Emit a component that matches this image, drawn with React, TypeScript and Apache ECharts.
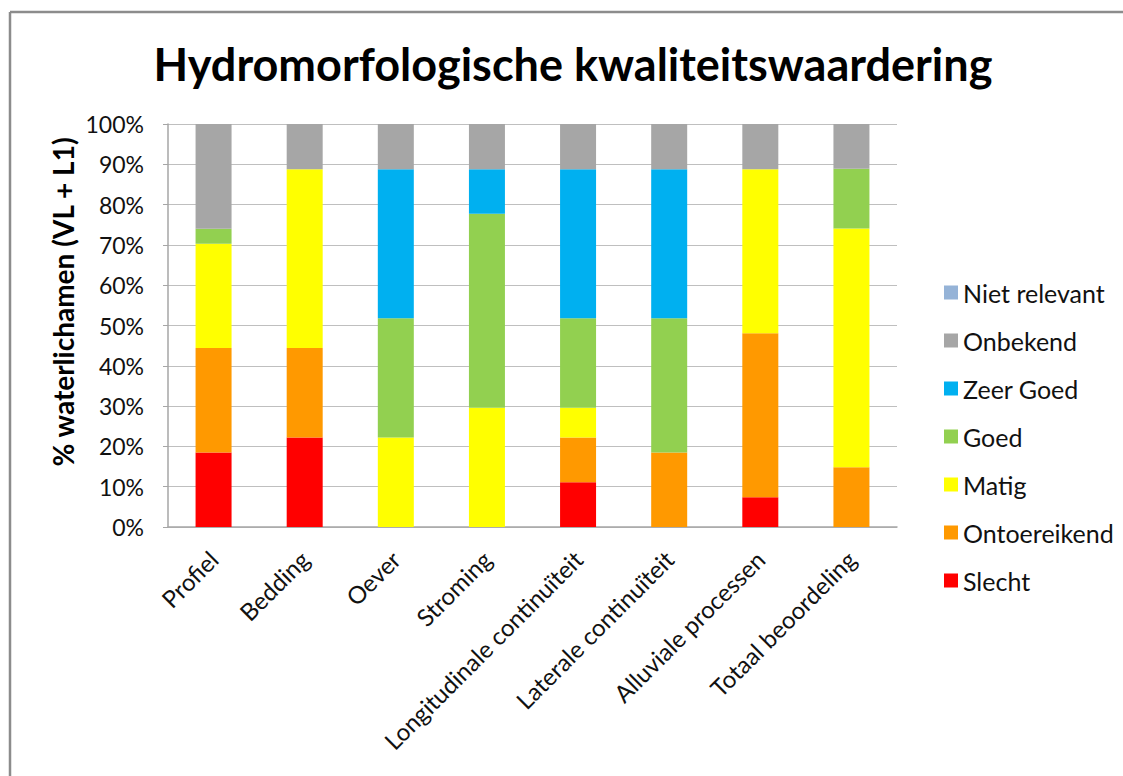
import React, { useEffect, useRef } from "react";
import * as echarts from "echarts";

const categories = [
  "Profiel",
  "Bedding",
  "Oever",
  "Stroming",
  "Longitudinale continuïteit",
  "Laterale continuïteit",
  "Alluviale processen",
  "Totaal beoordeling",
];

// percentages of water bodies (VL + L1)
const slecht = [18.5, 22.2, 0, 0, 11.1, 0, 7.4, 0];
const ontoereikend = [25.9, 22.2, 0, 0, 11.1, 18.5, 40.7, 14.8];
const matig = [25.9, 44.4, 22.2, 29.6, 7.4, 0, 40.7, 59.3];
const goed = [3.7, 0, 29.6, 48.1, 22.2, 33.3, 0, 14.8];
const zeerGoed = [0, 0, 37.0, 11.1, 37.0, 37.0, 0, 0];
const onbekend = [26.0, 11.2, 11.2, 11.2, 11.2, 11.2, 11.2, 11.1];
const nietRelevant = [0, 0, 0, 0, 0, 0, 0, 0];

const yTicks = [0, 10, 20, 30, 40, 50, 60, 70, 80, 90, 100];

const seriesDefs = [
  { name: "Slecht", data: slecht, color: "#FF0000" },
  { name: "Ontoereikend", data: ontoereikend, color: "#FF9900" },
  { name: "Matig", data: matig, color: "#FFFF00" },
  { name: "Goed", data: goed, color: "#92D050" },
  { name: "Zeer Goed", data: zeerGoed, color: "#00B0F0" },
  { name: "Onbekend", data: onbekend, color: "#A6A6A6" },
  { name: "Niet relevant", data: nietRelevant, color: "#95B3D7" },
];

const FONT = "Lato";

export default function App() {
  const ref = useRef<HTMLDivElement>(null);
  useEffect(() => {
    if (!ref.current) return;
    const chart = echarts.init(ref.current, null, { renderer: "svg" });
    chart.setOption({
      animation: false,
      backgroundColor: "#ffffff",
      textStyle: { fontFamily: FONT },
      grid: { left: 168, right: 226, top: 124, bottom: 249 },
      legend: {
        orient: "vertical",
        left: 939,
        top: 275,
        itemWidth: 14,
        itemHeight: 14,
        itemGap: 23,
        icon: "rect",
        data: seriesDefs.map((s) => s.name).reverse(),
        textStyle: { fontSize: 25, color: "#111", fontFamily: FONT, lineHeight: 20 },
      },
      xAxis: {
        type: "category",
        data: categories,
        axisLine: { lineStyle: { color: "#A6A6A6", width: 1.5 } },
        axisTick: { show: false },
        axisLabel: {
          rotate: 45,
          interval: 0,
          fontSize: 24,
          color: "#111",
          fontFamily: FONT,
          margin: 28,
        },
      },
      yAxis: {
        type: "value",
        min: 0,
        max: 100,
        interval: 10,
        axisLine: { show: true, lineStyle: { color: "#A6A6A6", width: 1.5 } },
        axisTick: { show: true, length: 5, lineStyle: { color: "#A6A6A6" } },
        splitLine: { lineStyle: { color: "#BFBFBF", width: 1.2 } },
        axisLabel: {
          fontSize: 23,
          color: "#111",
          fontFamily: FONT,
          margin: 24,
          formatter: (v: number) => (yTicks.includes(v) ? v + "%" : ""),
        },
      },
      series: seriesDefs.map((s) => ({
        name: s.name,
        type: "bar",
        stack: "total",
        barWidth: 36,
        data: s.data,
        itemStyle: { color: s.color },
        emphasis: { disabled: true },
      })),
      graphic: [
        {
          type: "line",
          shape: { x1: 10, y1: 12, x2: 1130, y2: 12 },
          style: { stroke: "#8C8C8C", lineWidth: 2.5 },
          silent: true,
        },
        {
          type: "line",
          shape: { x1: 10, y1: 12, x2: 10, y2: 790 },
          style: { stroke: "#8C8C8C", lineWidth: 2.5 },
          silent: true,
        },
        {
          type: "text",
          x: 573,
          y: 64,
          style: {
            text: "Hydromorfologische kwaliteitswaardering",
            fontFamily: FONT,
            fontWeight: "bold",
            fontSize: 45,
            fill: "#000",
            textAlign: "center",
            textVerticalAlign: "middle",
          },
        },
        {
          type: "text",
          x: 63,
          y: 302,
          rotation: Math.PI / 2,
          style: {
            text: "% waterlichamen (VL + L1)",
            fontFamily: FONT,
            fontWeight: "bold",
            fontSize: 28,
            fill: "#000",
            textAlign: "center",
            textVerticalAlign: "middle",
          },
        },
      ],
    });
    return () => chart.dispose();
  }, []);
  return (
    <div
      ref={ref}
      style={{ position: "absolute", left: 0, top: 0, width: 1123, height: 776 }}
    />
  );
}
